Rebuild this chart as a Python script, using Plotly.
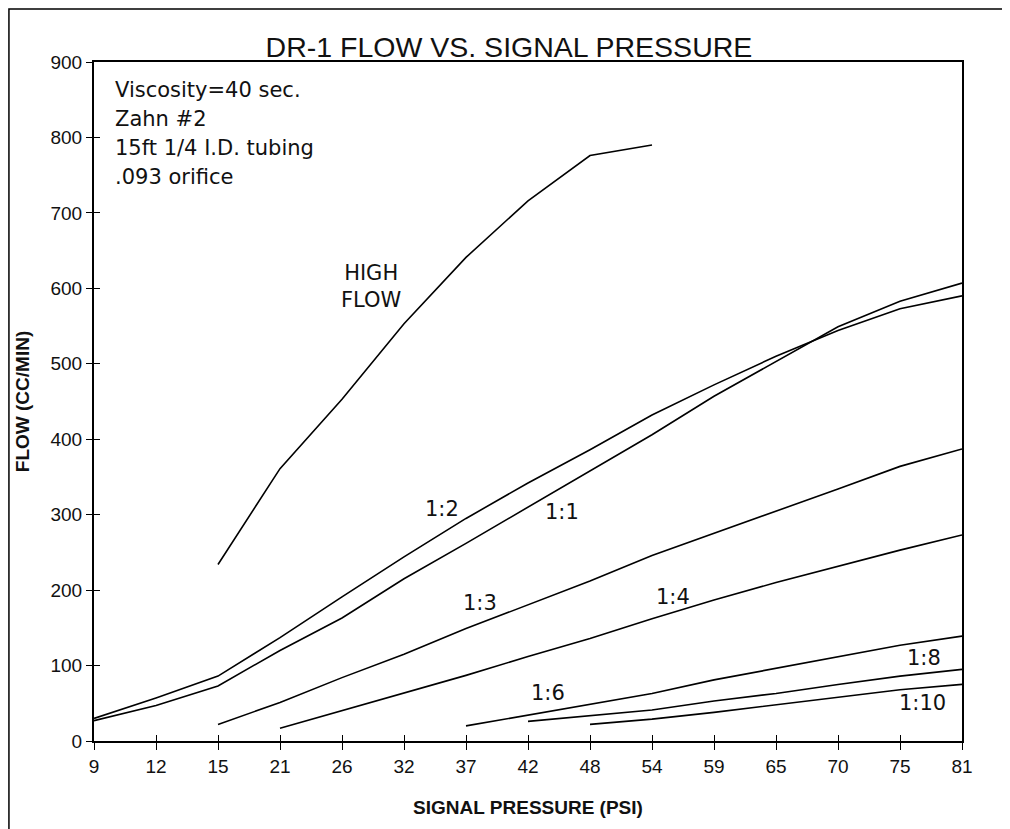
import plotly.graph_objects as go

# signal pressure categories (evenly spaced on the chart)
psi = ["9", "12", "15", "21", "26", "32", "37", "42", "48", "54", "59", "65", "70", "75", "81"]

high_flow = [234, 361, 453, 553, 641, 716, 776, 790]          # 15 .. 54
ratio_1_2 = [30, 57, 86, 137, 191, 244, 295, 342, 386, 432, 472, 510, 544, 573, 590]
ratio_1_1 = [27, 47, 73, 120, 163, 215, 262, 310, 358, 406, 457, 503, 549, 583, 607]
ratio_1_3 = [22, 51, 84, 115, 149, 180, 212, 246, 275, 304, 334, 364, 387]   # 15 .. 81
ratio_1_4 = [17, 40, 63, 87, 112, 136, 162, 187, 210, 232, 253, 273]        # 21 .. 81
ratio_1_6 = [20, 34, 49, 63, 81, 96, 112, 127, 139]                         # 37 .. 81
ratio_1_8 = [26, 34, 41, 53, 63, 75, 86, 95]                                # 42 .. 81
ratio_1_10 = [22, 29, 38, 48, 58, 68, 75]                                   # 48 .. 81

series = [
    ("HIGH FLOW", psi[2:10], high_flow),
    ("1:2", psi, ratio_1_2),
    ("1:1", psi, ratio_1_1),
    ("1:3", psi[2:], ratio_1_3),
    ("1:4", psi[3:], ratio_1_4),
    ("1:6", psi[6:], ratio_1_6),
    ("1:8", psi[7:], ratio_1_8),
    ("1:10", psi[8:], ratio_1_10),
]

# curve labels: (text, category index, flow)
labels = [
    ("HIGH<br>FLOW", 4.47, 602),
    ("1:2", 5.61, 308),
    ("1:1", 7.55, 304),
    ("1:3", 6.23, 183),
    ("1:4", 9.34, 191),
    ("1:6", 7.32, 63),
    ("1:8", 13.39, 110),
    ("1:10", 13.37, 50),
]

notes = ["Viscosity=40 sec.", "Zahn #2", "15ft 1/4 I.D. tubing", ".093 orifice"]

fig = go.Figure()
for name, xs, ys in series:
    fig.add_trace(
        go.Scatter(
            x=xs,
            y=ys,
            mode="lines",
            line=dict(color="black", width=1.6),
            name=name,
            showlegend=False,
        )
    )

# invisible trace on the overlay axes, used only for the inner half of the ticks
fig.add_trace(go.Scatter(x=[0, 14], y=[0, 0], xaxis="x2", yaxis="y2", mode="lines",
                         line=dict(width=0), hoverinfo="skip", showlegend=False))

label_font = dict(family="DejaVu Sans", size=21, color="#111")
for text, xi, yv in labels:
    fig.add_annotation(x=xi, y=yv, text=text, showarrow=False, font=label_font, align="center")

# notes block, one line per annotation (paper coords, ~29 px line pitch)
for i, line in enumerate(notes):
    fig.add_annotation(
        xref="paper", yref="paper", x=0.0219, y=0.959 - i * 0.0427,
        xanchor="left", yanchor="middle", text=line, showarrow=False, font=label_font,
    )

# outer frame around the whole chart
fig.add_shape(
    type="rect", xref="paper", yref="paper",
    x0=-0.098, x1=1.2, y0=-0.3, y1=1.078,
    line=dict(color="black", width=1.5),
)

tick_font = dict(family="Liberation Sans, Arial", size=19, color="#111")
title_font = dict(family="Liberation Sans, Arial", size=19, color="#111")

fig.update_layout(
    width=1010,
    height=829,
    paper_bgcolor="white",
    plot_bgcolor="white",
    margin=dict(l=86, r=56, t=54, b=96),
    title=dict(
        text="DR-1 FLOW VS. SIGNAL PRESSURE",
        x=0.496, xanchor="center", y=0.953, yanchor="middle",
        font=dict(family="Liberation Sans, Arial", size=28.5, color="#111"),
    ),
    font=dict(family="Liberation Sans, Arial", color="#111"),
    xaxis=dict(
        type="category", categoryorder="array", categoryarray=psi, range=[0, 14],
        showgrid=False, zeroline=False, showline=True, linecolor="black", linewidth=2, mirror=True,
        ticks="outside", ticklen=7, tickwidth=1.2, tickcolor="black", tickfont=tick_font,
        title=dict(text="<b>SIGNAL PRESSURE (PSI)</b>", font=title_font, standoff=25),
    ),
    yaxis=dict(
        range=[0, 900], dtick=100,
        showgrid=False, zeroline=False, showline=True, linecolor="black", linewidth=2, mirror=True,
        ticks="outside", ticklen=6, tickwidth=1.2, tickcolor="black", tickfont=tick_font,
        title=dict(text="<b>FLOW (CC/MIN)</b>", font=title_font, standoff=16),
    ),
    xaxis2=dict(overlaying="x", range=[0, 14], dtick=1, ticks="inside", ticklen=6, tickwidth=1.2,
                tickcolor="black", showticklabels=False, showgrid=False, zeroline=False, showline=False),
    yaxis2=dict(overlaying="y", range=[0, 900], dtick=100, ticks="inside", ticklen=6, tickwidth=1.2,
                tickcolor="black", showticklabels=False, showgrid=False, zeroline=False, showline=False),
)

fig.write_html("out.html")
